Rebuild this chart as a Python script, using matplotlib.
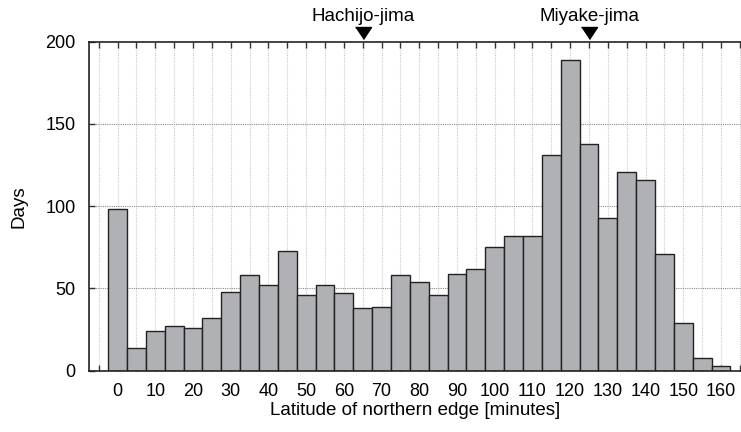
import matplotlib
matplotlib.use("Agg")
import matplotlib.pyplot as plt
from matplotlib.transforms import blended_transform_factory

# Histogram of days by latitude of the northern edge (minutes)
latitude_min = [0, 5, 10, 15, 20, 25, 30, 35, 40, 45, 50, 55, 60, 65, 70, 75, 80,
                85, 90, 95, 100, 105, 110, 115, 120, 125, 130, 135, 140, 145, 150, 155, 160]
days = [98, 14, 24, 27, 26, 32, 48, 58, 52, 73, 46, 52, 47, 38, 39, 58, 54,
        46, 59, 62, 75, 82, 82, 131, 189, 138, 93, 121, 116, 71, 29, 8, 3]
xtick_values = list(range(0, 161, 10))
ytick_values = [0, 50, 100, 150, 200]
islands = ["Hachijo-jima", "Miyake-jima"]
island_lat = [65, 125]

plt.rcParams["font.family"] = ["Liberation Sans", "DejaVu Sans"]
plt.rcParams["font.size"] = 13.5

fig = plt.figure(figsize=(7.41, 4.32), dpi=100)
ax = fig.add_axes([89.3 / 741, 61.3 / 432, 660 / 741, 329 / 432])

ax.bar(latitude_min, days, width=5, align="center", color="#b0b1b5",
       edgecolor="#222222", linewidth=1.0, zorder=3)

ax.set_xlim(-7.5, 167.5)
ax.set_ylim(0, 200)

ax.set_xticks(range(-5, 170, 5), minor=True)
ax.set_xticks(xtick_values)
ax.set_yticks(ytick_values)

ax.tick_params(axis="x", which="both", direction="in", top=True, length=4,
               width=1.0, color="#333333", pad=9, labelsize=13)
ax.tick_params(axis="y", which="both", direction="in", length=4, width=1.0,
               color="#333333", pad=10, labelsize=13)

# Grid lines
for xv in range(-5, 170, 5):
    ax.axvline(xv, color="#cccccc", linestyle=(0, (1, 1)), linewidth=0.8, zorder=1)
for yv in [50, 100, 150]:
    ax.axhline(yv, color="#8a8a8a", linestyle=(0, (1, 1)), linewidth=0.8, zorder=1)

for side in ["left", "bottom", "top", "right"]:
    ax.spines[side].set_linewidth(1.2)
    ax.spines[side].set_color("#222222")
    ax.spines[side].set_zorder(4)

ax.set_xlabel("Latitude of northern edge [minutes]")
ax.set_ylabel("Days")
ax.xaxis.set_label_coords((415 - 89.3) / 660, -0.095)
ax.yaxis.set_label_coords((28 - 89.3) / 660, 0.5)

# Island markers above the plot
trans = blended_transform_factory(ax.transData, ax.transAxes)
tri = [(-1, 0.75), (1, 0.75), (0, -0.75)]
for name, lat in zip(islands, island_lat):
    ax.plot([lat], [1.0264], marker=tri, markersize=11.5, color="black",
            transform=trans, clip_on=False, zorder=5)
    ax.text(lat, 1.050, name, transform=trans, ha="center", va="bottom",
            fontsize=13.5)

fig.savefig("out.png", dpi=100)
